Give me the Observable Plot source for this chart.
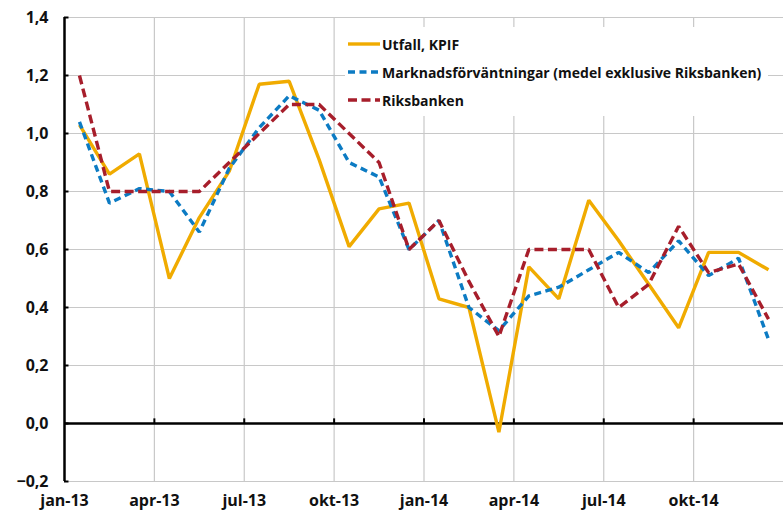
<!DOCTYPE html>
<html>
<head>
<meta charset="utf-8">
<script src="https://cdn.jsdelivr.net/npm/d3@7"></script>
<script src="https://cdn.jsdelivr.net/npm/@observablehq/plot@0.6"></script>
<style>
  html, body { margin: 0; padding: 0; background: #fff; }
  #wrap { position: relative; width: 783px; height: 513px; font-family: "Open Sans", sans-serif; }
  #legend { position: absolute; left: 345px; top: 27px; width: 423px; height: 89px; background: #fff; }
  .row { position: absolute; left: 3px; height: 20px; display: flex; align-items: center; font-weight: bold; font-size: 14px; color: #111; white-space: nowrap; }
  .row svg { margin-right: 2px; }
</style>
</head>
<body>
<div id="wrap"></div>
<script>
const months = ["jan-13","feb-13","mar-13","apr-13","maj-13","jun-13","jul-13","aug-13","sep-13","okt-13","nov-13","dec-13",
                "jan-14","feb-14","mar-14","apr-14","maj-14","jun-14","jul-14","aug-14","sep-14","okt-14","nov-14","dec-14"];
const utfall     = [1.03, 0.86, 0.93, 0.50, 0.71, 0.87, 1.17, 1.18, 0.91, 0.61, 0.74, 0.76,
                    0.43, 0.40, -0.03, 0.54, 0.43, 0.77, 0.63, 0.48, 0.33, 0.59, 0.59, 0.53];
const marknad    = [1.04, 0.76, 0.81, 0.80, 0.66, 0.88, 1.02, 1.13, 1.08, 0.90, 0.85, 0.60,
                    0.70, 0.40, 0.32, 0.44, 0.47, 0.53, 0.59, 0.52, 0.63, 0.51, 0.57, 0.29];
const riksbanken = [1.20, 0.80, 0.80, 0.80, 0.80, 0.90, 1.00, 1.10, 1.10, 1.00, 0.90, 0.60,
                    0.70, 0.49, 0.30, 0.60, 0.60, 0.60, 0.40, 0.48, 0.68, 0.52, 0.55, 0.36];
const seriesNames = ["Utfall, KPIF", "Marknadsförväntningar (medel exklusive Riksbanken)", "Riksbanken"];
const yTicks = [-0.2, 0, 0.2, 0.4, 0.6, 0.8, 1.0, 1.2, 1.4];
const xTickLabels = ["jan-13","apr-13","jul-13","okt-13","jan-14","apr-14","jul-14","okt-14"];

const colors = ["#F0AB00", "#0C7BC3", "#A71E2B"];
const dashes = [null, "7,4.5", "9,4.5"];

const data = months.map((m, i) => ({m, pos: i + 0.5, utfall: utfall[i], marknad: marknad[i], riksbanken: riksbanken[i]}));
const xTickIdx = xTickLabels.map(l => months.indexOf(l));
const fmt = d => (d < 0 ? "\u2212" : "") + Math.abs(d).toFixed(1).replace(".", ",");
const lineStyle = {strokeWidth: 3.4, strokeLinejoin: "miter", strokeLinecap: "butt"};

const chart = Plot.plot({
  width: 783, height: 513,
  marginLeft: 64, marginRight: 0, marginTop: 17, marginBottom: 32,
  x: {type: "linear", domain: [0, months.length]},
  y: {domain: [-0.2, 1.4]},
  style: {fontFamily: "'Open Sans', sans-serif", color: "#111", background: "#fff"},
  marks: [
    Plot.ruleY(yTicks.filter(d => d !== 0), {stroke: "#c8c8c8", strokeWidth: 1.2}),
    Plot.ruleX(xTickIdx.filter(d => d > 0), {stroke: "#c8c8c8", strokeWidth: 1.2}),
    Plot.ruleY([0], {stroke: "#000", strokeWidth: 2.5}),
    Plot.ruleX([0], {stroke: "#000", strokeWidth: 2.5}),
    Plot.ruleY(yTicks, {x1: 0, x2: 0.15, stroke: "#000", strokeWidth: 2}),
    Plot.ruleX(xTickIdx.filter(d => d > 0), {y1: 0, y2: 0.016, stroke: "#000", strokeWidth: 2}),
    Plot.lineY(data, {x: "pos", y: "utfall", stroke: colors[0], ...lineStyle}),
    Plot.lineY(data, {x: "pos", y: "marknad", stroke: colors[1], strokeDasharray: dashes[1], ...lineStyle}),
    Plot.lineY(data, {x: "pos", y: "riksbanken", stroke: colors[2], strokeDasharray: dashes[2], ...lineStyle}),
    Plot.axisY(yTicks, {tickSize: 0, tickPadding: 16, tickFormat: fmt, fontSize: 16, fontWeight: "bold", label: null}),
    Plot.axisX(xTickIdx, {tickSize: 0, tickPadding: 13, tickFormat: d => months[d], fontSize: 16, fontWeight: "bold", label: null})
  ]
});

const wrap = document.getElementById("wrap");
wrap.appendChild(chart);
const legend = document.createElement("div");
legend.id = "legend";
seriesNames.forEach((name, k) => {
  const row = document.createElement("div");
  row.className = "row";
  row.style.top = (7 + k * 28) + "px";
  const sw = `<svg width="32" height="8"><line x1="0" y1="4" x2="32" y2="4" stroke="${colors[k]}" stroke-width="3.4" ${dashes[k] ? `stroke-dasharray="${dashes[k]}"` : ""}/></svg>`;
  row.innerHTML = sw + "<span></span>";
  row.querySelector("span").textContent = name;
  legend.appendChild(row);
});
wrap.appendChild(legend);
</script>
</body>
</html>
